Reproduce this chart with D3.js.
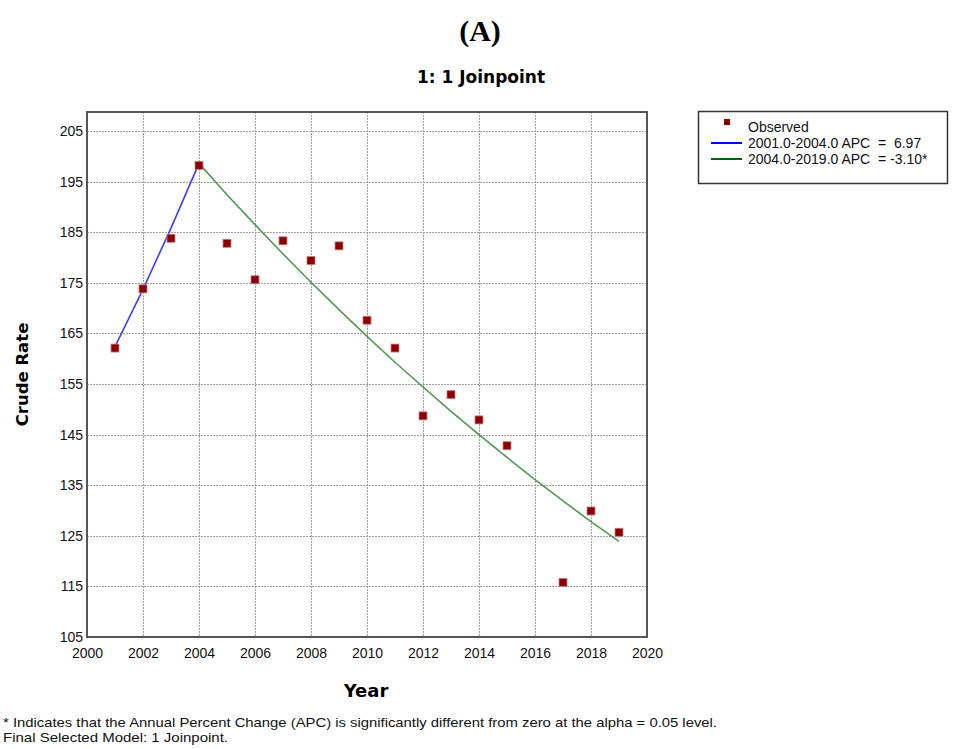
<!DOCTYPE html>
<html>
<head>
<meta charset="utf-8">
<script src="https://cdn.jsdelivr.net/npm/d3@7"></script>
<style>
  body { margin: 0; background: #fff; }
  svg { display: block; }
  text { font-family: "Liberation Sans", Arial, sans-serif; }
</style>
</head>
<body>
<div id="chart"></div>
<script>
// observed crude rates (2016 missing in the picture)
const obsYears = [2001, 2002, 2003, 2004, 2005, 2006, 2007, 2008, 2009, 2010, 2011, 2012, 2013, 2014, 2015, 2017, 2018, 2019]
const obsRates = [162.1, 173.8, 183.8, 198.2, 182.8, 175.6, 183.3, 179.4, 182.3, 167.6, 162.1, 148.7, 152.9, 147.9, 142.8, 115.8, 129.9, 125.7]

// modelled segments
const seg1Years = [2001, 2002, 2003, 2004]
const seg1Rates = [162.4, 173.7, 185.8, 198.6]
const seg2Years = [2004, 2005, 2006, 2007, 2008, 2009, 2010, 2011, 2012, 2013, 2014, 2015, 2016, 2017, 2018, 2019]
const seg2Rates = [198.6, 192.4, 186.5, 180.7, 175.1, 169.7, 164.4, 159.3, 154.4, 149.6, 145.0, 140.5, 136.1, 131.9, 127.8, 123.9]

const xTicks = [2000, 2002, 2004, 2006, 2008, 2010, 2012, 2014, 2016, 2018, 2020]
const yTicks = [105, 115, 125, 135, 145, 155, 165, 175, 185, 195, 205]

const legendLabels = ['Observed', '2001.0-2004.0 APC  =  6.97', '2004.0-2019.0 APC  = -3.10*']

const width = 960, height = 749
const plot = { left: 87, right: 647, top: 112, bottom: 637 }

const svg = d3.select('#chart').append('svg')
  .attr('width', width)
  .attr('height', height)

const x = d3.scaleLinear().domain([2000, 2020]).range([plot.left, plot.right])
const y = d3.scaleLinear().domain([105, 208.75]).range([plot.bottom, plot.top])

// panel label + title
svg.append('text')
  .attr('x', 480).attr('y', 41)
  .attr('text-anchor', 'middle')
  .style('font-family', '"Liberation Serif", "DejaVu Serif", serif')
  .style('font-weight', 'bold')
  .style('font-size', '30px')
  .text('(A)')

svg.append('text')
  .attr('x', 481).attr('y', 83)
  .attr('text-anchor', 'middle')
  .style('font-family', '"DejaVu Sans", Tahoma, sans-serif')
  .style('font-weight', 'bold')
  .style('font-size', '17px')
  .text('1: 1 Joinpoint')

// grid
const grid = svg.append('g')
  .attr('stroke', '#a0a0a0')
  .attr('stroke-width', 1)
  .attr('stroke-dasharray', '2,1')

grid.selectAll('.gx')
  .data(xTicks.slice(1, -1))
  .join('line')
  .attr('x1', d => Math.round(x(d)) + 0.5)
  .attr('x2', d => Math.round(x(d)) + 0.5)
  .attr('y1', plot.top)
  .attr('y2', plot.bottom)

grid.selectAll('.gy')
  .data(yTicks.slice(1))
  .join('line')
  .attr('x1', plot.left)
  .attr('x2', plot.right)
  .attr('y1', d => Math.round(y(d)) + 0.5)
  .attr('y2', d => Math.round(y(d)) + 0.5)

// frame
svg.append('rect')
  .attr('x', plot.left).attr('y', plot.top)
  .attr('width', plot.right - plot.left)
  .attr('height', plot.bottom - plot.top)
  .attr('fill', 'none')
  .attr('stroke', '#555')
  .attr('stroke-width', 2)

// axes (labels only, tick lines hidden)
const yAxis = svg.append('g')
  .attr('transform', `translate(${plot.left},0)`)
  .call(d3.axisLeft(y).tickValues(yTicks).tickSize(0).tickPadding(4))
yAxis.select('.domain').remove()
yAxis.selectAll('text')
  .style('font-size', '14px')
  .style('font-family', '"Liberation Sans", Arial, sans-serif')
  .attr('fill', '#111')

const xAxis = svg.append('g')
  .attr('transform', `translate(0,${plot.bottom})`)
  .call(d3.axisBottom(x).tickValues(xTicks).tickFormat(d3.format('d')).tickSize(0).tickPadding(11))
xAxis.select('.domain').remove()
xAxis.selectAll('text')
  .style('font-size', '14px')
  .style('font-family', '"Liberation Sans", Arial, sans-serif')
  .attr('fill', '#111')

// axis titles
svg.append('text')
  .attr('transform', `translate(28,${(plot.top + plot.bottom) / 2}) rotate(-90)`)
  .attr('text-anchor', 'middle')
  .style('font-family', '"DejaVu Sans", Tahoma, sans-serif')
  .style('font-weight', 'bold')
  .style('font-size', '16.5px')
  .text('Crude Rate')

svg.append('text')
  .attr('x', 366).attr('y', 697)
  .attr('text-anchor', 'middle')
  .style('font-family', '"DejaVu Sans", Tahoma, sans-serif')
  .style('font-weight', 'bold')
  .style('font-size', '18px')
  .text('Year')

// fitted lines
const line = d3.line().x(d => x(d[0])).y(d => y(d[1]))

svg.append('path')
  .datum(seg1Years.map((yr, i) => [yr, seg1Rates[i]]))
  .attr('d', line)
  .attr('fill', 'none')
  .attr('stroke', '#3c3cff')
  .attr('stroke-width', 1.6)

svg.append('path')
  .datum(seg2Years.map((yr, i) => [yr, seg2Rates[i]]))
  .attr('d', line)
  .attr('fill', 'none')
  .attr('stroke', '#4f9a4f')
  .attr('stroke-width', 1.6)

// observed points
const sq = 8
svg.append('g')
  .selectAll('rect')
  .data(obsYears.map((yr, i) => [yr, obsRates[i]]))
  .join('rect')
  .attr('x', d => x(d[0]) - sq / 2)
  .attr('y', d => y(d[1]) - sq / 2)
  .attr('width', sq)
  .attr('height', sq)
  .attr('fill', '#8b0000')
  .attr('stroke', '#c08080')
  .attr('stroke-width', 0.8)

// legend
const legend = svg.append('g')
legend.append('rect')
  .attr('x', 698.5).attr('y', 111.5)
  .attr('width', 249).attr('height', 72)
  .attr('fill', '#fff')
  .attr('stroke', '#333')
  .attr('stroke-width', 1.5)

legend.append('rect')
  .attr('x', 724).attr('y', 119)
  .attr('width', 6).attr('height', 6)
  .attr('fill', '#8b0000')

const legendColors = [null, '#0000ff', '#006400']
legendLabels.forEach((label, i) => {
  const ly = 132 + i * 16
  if (legendColors[i]) {
    legend.append('line')
      .attr('x1', 711).attr('x2', 742)
      .attr('y1', ly - 5).attr('y2', ly - 5)
      .attr('stroke', legendColors[i])
      .attr('stroke-width', 2)
  }
  legend.append('text')
    .attr('x', 748).attr('y', ly)
    .style('font-size', '14px')
    .style('white-space', 'pre')
    .attr('fill', '#111')
    .text(label)
})

// footnotes
const notes = ['* Indicates that the Annual Percent Change (APC) is significantly different from zero at the alpha = 0.05 level.',
  'Final Selected Model: 1 Joinpoint.']
const noteLen = [714, 225]
notes.forEach((t, i) => {
  svg.append('text')
    .attr('x', 3).attr('y', 727 + i * 15)
    .style('font-family', '"Liberation Sans Narrow", "Liberation Sans", Arial, sans-serif')
    .style('font-size', '13px')
    .attr('textLength', noteLen[i])
    .attr('lengthAdjust', 'spacingAndGlyphs')
    .attr('fill', '#111')
    .text(t)
})
</script>
</body>
</html>
